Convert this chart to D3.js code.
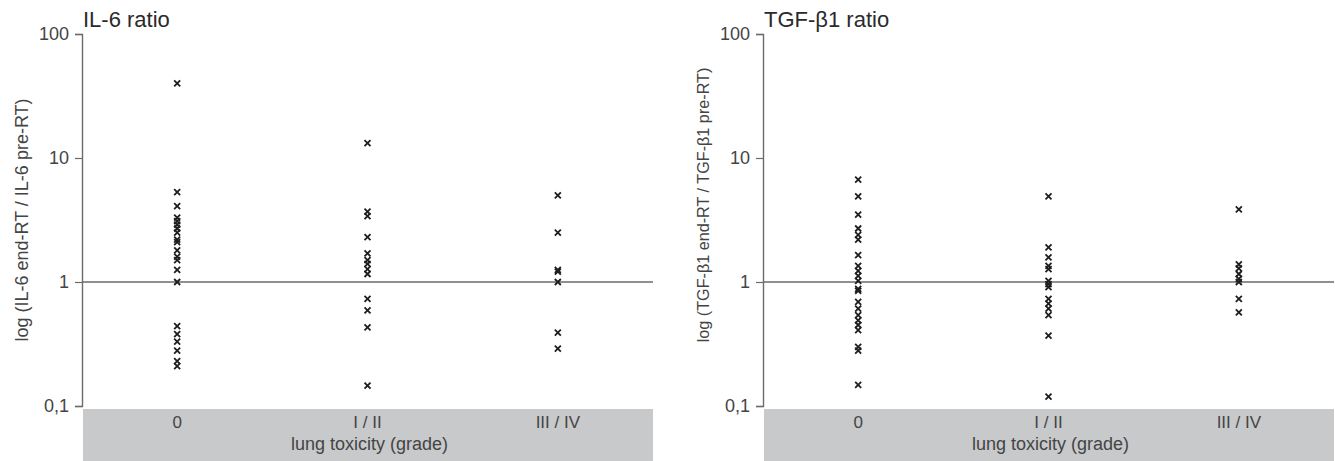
<!DOCTYPE html>
<html>
<head>
<meta charset="utf-8">
<script src="https://cdn.jsdelivr.net/npm/d3@7"></script>
<style>
  html, body { margin: 0; padding: 0; background: #fff; }
  svg { display: block; font-family: "Liberation Sans", Arial, sans-serif; }
</style>
</head>
<body>
<svg id="chart" width="1335" height="461"></svg>
<script>
// Toxicity grade categories (x axis)
const grades = ["0", "I / II", "III / IV"];
// Log-axis tick values and their printed labels (decimal comma)
const tickValues = [0.1, 1, 10, 100];
const tickLabels = ["0,1", "1", "10", "100"];

// IL-6 ratio (end-RT / pre-RT) per patient, grouped by grade
const il6Grade0 = [40, 5.3, 4.1, 3.3, 3.1, 2.9, 2.7, 2.5, 2.2, 2.1, 1.8, 1.6, 1.5, 1.25, 1.0, 0.44, 0.38, 0.33, 0.28, 0.23, 0.21];
const il6Grade12 = [13.2, 3.7, 3.4, 2.3, 1.7, 1.5, 1.4, 1.27, 1.16, 0.73, 0.59, 0.43, 0.146];
const il6Grade34 = [5.0, 2.5, 1.25, 1.21, 1.0, 0.39, 0.29];

// TGF-β1 ratio (end-RT / pre-RT) per patient, grouped by grade
const tgfGrade0 = [6.7, 4.9, 3.5, 2.7, 2.4, 2.2, 1.65, 1.35, 1.23, 1.12, 1.02, 0.88, 0.85, 0.69, 0.61, 0.54, 0.49, 0.45, 0.41, 0.30, 0.28, 0.148];
const tgfGrade12 = [4.9, 1.9, 1.58, 1.35, 1.27, 1.02, 0.96, 0.91, 0.73, 0.67, 0.61, 0.54, 0.37, 0.119];
const tgfGrade34 = [3.85, 1.39, 1.29, 1.16, 1.06, 1.0, 0.73, 0.57];

const panels = [
  {
    title: "IL-6 ratio",
    yTitle: "log (IL-6 end-RT / IL-6 pre-RT)",
    series: [il6Grade0, il6Grade12, il6Grade34],
    left: 82, right: 653, yTitleX: 28, yTitleY: 220, yTitleSize: 18
  },
  {
    title: "TGF-\u03B21 ratio",
    yTitle: "log (TGF-\u03B21 end-RT / TGF-\u03B21 pre-RT)",
    series: [tgfGrade0, tgfGrade12, tgfGrade34],
    left: 763, right: 1334, yTitleX: 709, yTitleY: 205, yTitleSize: 16.2
  }
];

const svg = d3.select("#chart");
const yTop = 34, yBottom = 406, bandTop = 409, bandBottom = 461;
const textColor = "#444";

panels.forEach(p => {
  const g = svg.append("g");

  const x = d3.scalePoint().domain(grades).range([p.left, p.right]).padding(0.5);
  const y = d3.scaleLog().domain([0.1, 100]).range([yBottom, yTop]);

  // grey category strip under the plot
  g.append("rect")
    .attr("x", p.left + 1).attr("y", bandTop)
    .attr("width", p.right - p.left - 1).attr("height", bandBottom - bandTop)
    .attr("fill", "#c8c9cb");

  // y axis
  const yAxis = d3.axisLeft(y)
    .tickValues(tickValues)
    .tickFormat((d, i) => tickLabels[i])
    .tickSize(7)
    .tickPadding(6);
  const ya = g.append("g")
    .attr("transform", `translate(${p.left},0)`)
    .call(yAxis);
  ya.select(".domain").attr("stroke", "#6b6b6b").attr("stroke-width", 1.4);
  ya.selectAll(".tick line").attr("stroke", "#6b6b6b").attr("stroke-width", 1.2);
  ya.selectAll(".tick text")
    .attr("fill", textColor)
    .style("font-size", "18px")
    .style("font-family", "'Liberation Sans', Arial, sans-serif");

  // reference line at ratio = 1
  g.append("line")
    .attr("x1", p.left).attr("x2", p.right)
    .attr("y1", y(1)).attr("y2", y(1))
    .attr("stroke", "#6b6b6b").attr("stroke-width", 1.4);

  // category labels
  g.selectAll("text.cat")
    .data(grades)
    .join("text")
    .attr("class", "cat")
    .attr("x", d => x(d))
    .attr("y", 428)
    .attr("text-anchor", "middle")
    .attr("fill", textColor)
    .style("font-size", "17px")
    .text(d => d);

  // x axis title
  g.append("text")
    .attr("x", x(grades[1]) + 2)
    .attr("y", 450)
    .attr("text-anchor", "middle")
    .attr("fill", textColor)
    .style("font-size", "18px")
    .text("lung toxicity (grade)");

  // panel title
  g.append("text")
    .attr("x", p.left + 1)
    .attr("y", 27)
    .attr("fill", "#2a2a2a")
    .style("font-size", "22px")
    .text(p.title);

  // y axis title
  g.append("text")
    .attr("transform", `translate(${p.yTitleX},${p.yTitleY}) rotate(-90)`)
    .attr("text-anchor", "middle")
    .attr("fill", textColor)
    .style("font-size", p.yTitleSize + "px")
    .text(p.yTitle);

  // data points as x-shaped markers
  const pts = [];
  p.series.forEach((vals, i) => vals.forEach(v => pts.push({ grade: grades[i], v })));
  const s = 3;
  g.selectAll("path.pt")
    .data(pts)
    .join("path")
    .attr("class", "pt")
    .attr("transform", d => `translate(${x(d.grade)},${y(d.v)})`)
    .attr("d", `M${-s},${-s}L${s},${s}M${-s},${s}L${s},${-s}`)
    .attr("stroke", "#1e1e1e")
    .attr("stroke-width", 1.8)
    .attr("fill", "none");
});
</script>
</body>
</html>
